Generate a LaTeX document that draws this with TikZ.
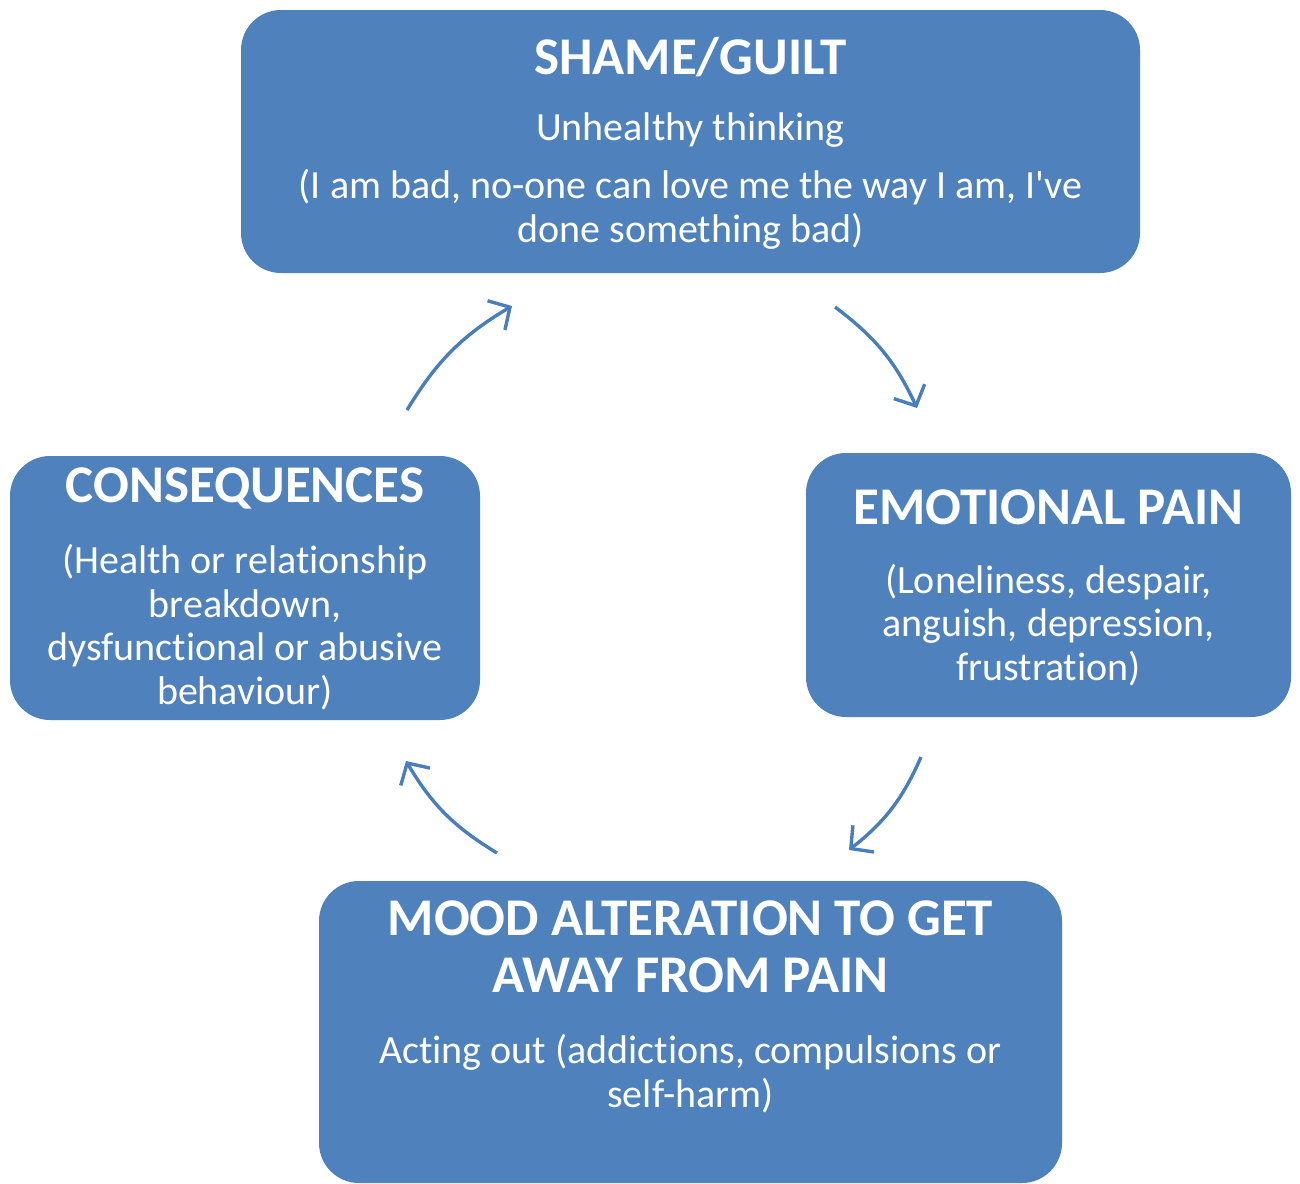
\documentclass[tikz,border=0pt]{standalone}
\usepackage{fontspec}
\setmainfont{Carlito}[Ligatures={NoCommon}]
\usetikzlibrary{arrows.meta}
\definecolor{boxblue}{HTML}{4F81BD}
\definecolor{arrowblue}{HTML}{4A7EBB}
\tikzset{
  box/.style={fill=boxblue, draw=none, rounded corners=40pt, inner sep=0pt},
  ttl/.style={text=white, font=\fontsize{53}{57}\selectfont\bfseries, align=center, inner sep=0pt},
  bdy/.style={text=white, font=\fontsize{40}{43.5}\selectfont, align=center, inner sep=0pt},
  cyc/.style={draw=arrowblue, line width=3.4pt, -{Straight Barb[length=16pt,width=34pt,line width=3.4pt]}}
}
\begin{document}
\begin{tikzpicture}[x=1pt,y=-1pt]
\useasboundingbox (0,0) rectangle (1300,1183);
% boxes
\node[box, minimum width=899pt, minimum height=263pt] (top) at (690.5,141.5) {};
\node[box, minimum width=470pt, minimum height=264pt] (left) at (245,588) {};
\node[box, minimum width=485pt, minimum height=264pt] (right) at (1048.5,585) {};
\begin{scope}
\clip (0,0) rectangle (1300,1183);
\node[box, minimum width=743pt, minimum height=302pt] (bottom) at (690.5,1032) {};
\end{scope}
% texts
\node[ttl] (toptitle) at (690.5,57) {SHAME/GUILT};
\node[bdy] (topsub) at (690.5,130) {Unhealthy thinking};
\node[bdy] (topbody) at (690.5,209.5) {(I am bad, no-one can love me the way I am, I\textquotesingle ve\\done something bad)};
\node[ttl] (lefttitle) at (245,488) {CONSEQUENCES};
\node[bdy] (leftbody) at (245,627) {(Health or relationship\\breakdown,\\dysfunctional or abusive\\behaviour)};
\node[ttl] (righttitle) at (1048.5,507) {EMOTIONAL PAIN};
\node[bdy] (rightbody) at (1048.5,625) {(Loneliness, despair,\\anguish, depression,\\frustration)};
\node[ttl] (bottomtitle) at (690.5,946.5) {MOOD ALTERATION TO GET\\AWAY FROM PAIN};
\node[bdy] (bottombody) at (690.5,1073.5) {Acting out (addictions, compulsions or\\self-harm)};
% arrows
\coordinate (a1s) at (407,410);
\coordinate (a1e) at (512,306);
\coordinate (a2s) at (835,307);
\coordinate (a2e) at (917,408);
\coordinate (a3s) at (921,757);
\coordinate (a3e) at (849,850);
\coordinate (a4s) at (497,853);
\coordinate (a4e) at (406,761);
\draw[cyc] (a1s) to[bend left=14] (a1e);
\draw[cyc] (a2s) to[bend left=14] (a2e);
\draw[cyc] (a3s) to[bend left=14] (a3e);
\draw[cyc] (a4s) to[bend left=14] (a4e);
\end{tikzpicture}
\end{document}
